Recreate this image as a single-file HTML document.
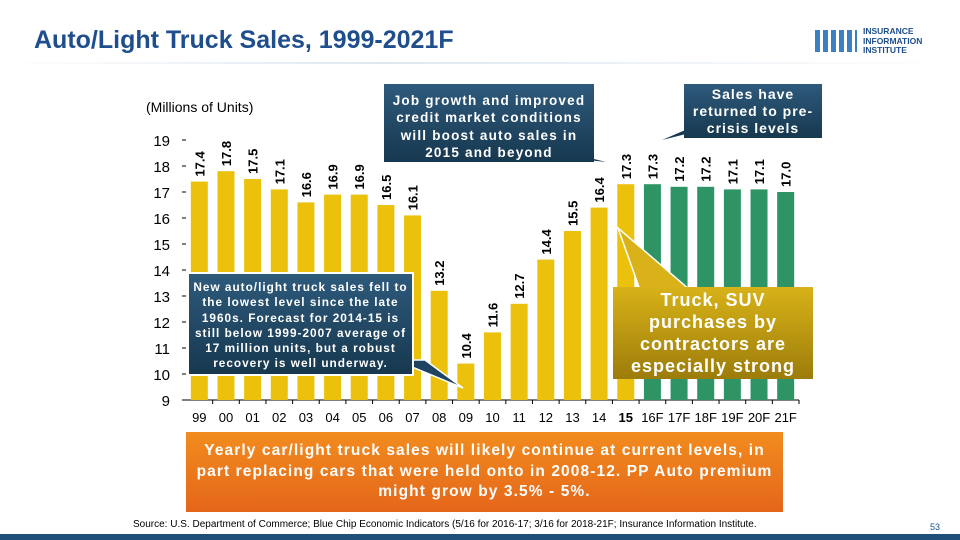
<!DOCTYPE html>
<html><head><meta charset="utf-8"><style>
body{margin:0;width:960px;height:540px;overflow:hidden;background:#fff;font-family:"Liberation Sans",sans-serif;position:relative}
.abs{position:absolute}
.box{position:absolute;color:#fff;font-weight:bold;text-align:center;box-sizing:border-box;white-space:nowrap}
</style></head><body>
<div class="abs" style="left:34px;top:26px;font-size:25px;font-weight:bold;color:#1f4e8c">Auto/Light Truck Sales, 1999-2021F</div>
<div class="abs" style="left:0;top:62px;width:960px;height:2px;background:linear-gradient(90deg,#fff,#dfe7f0 40%,#fff)"></div>
<div class="abs" style="left:815px;top:26px;width:130px;height:30px">
 <div class="abs" style="left:0;top:4px;width:42px;height:22px;background:repeating-linear-gradient(90deg,#3b7fc4 0 5px,#fff 5px 8px)"></div>
 <div class="abs" style="left:48px;top:1px;font-size:8.5px;font-weight:bold;color:#1f4e8c;line-height:9.5px">INSURANCE<br>INFORMATION<br>INSTITUTE</div>
</div>
<div class="abs" style="left:146px;top:99px;font-size:14px;color:#000">(Millions of Units)</div>
<svg class="abs" style="left:0;top:0" width="960" height="540">
<g id="g"></g>
</svg>
<svg class="abs" style="left:0;top:0;pointer-events:none" width="960" height="540"><polygon points="570,158 590,158 606,162" fill="#17384f"/><polygon points="690,128 710,128 662,140" fill="#17384f"/><polygon points="395,360 425,360 463,388" fill="#1e4462" stroke="#fff" stroke-width="1.5"/><polygon points="640,290 690,290 618,228" fill="#d8b218" stroke="#fff" stroke-width="1.5"/></svg>
<div class="box" style="left:384px;top:84px;width:210px;height:78px;background:linear-gradient(#2e5a7c,#17384f);font-size:13.5px;letter-spacing:1.2px;padding-top:8px;line-height:17.3px">Job growth and improved<br>credit market conditions<br>will boost auto sales in<br>2015 and beyond</div>
<div class="box" style="left:684px;top:84px;width:138px;height:54px;background:linear-gradient(#2e5a7c,#17384f);font-size:14px;letter-spacing:1px;padding-top:2px;line-height:17px">Sales have<br>returned to pre-<br>crisis levels</div>
<div class="box" style="left:187px;top:272px;width:227px;height:104px;background:linear-gradient(#2e5a7c,#17384f);border:2px solid #fff;font-size:11.8px;letter-spacing:1px;padding-top:6px;line-height:15.3px">New auto/light truck sales fell to<br>the lowest level since the late<br>1960s. Forecast for 2014-15 is<br>still below 1999-2007 average of<br>17 million units, but a robust<br>recovery is well underway.</div>
<div class="box" style="left:613px;top:287px;width:200px;height:92px;background:linear-gradient(#d8b218,#9c7c0a);font-size:18px;letter-spacing:1px;padding-top:2px;line-height:22px">Truck, SUV<br>purchases by<br>contractors are<br>especially strong</div>
<div class="box" style="left:186px;top:432px;width:597px;height:80px;background:linear-gradient(#f28c1e,#e4661a);font-size:15.5px;letter-spacing:1.1px;padding-top:9px;line-height:20.5px">Yearly car/light truck sales will likely continue at current levels, in<br>part replacing cars that were held onto in 2008-12. PP Auto premium<br>might grow by 3.5% - 5%.</div>
<div class="abs" style="left:133px;top:519px;font-size:10px;color:#000">Source: U.S. Department of Commerce; Blue Chip Economic Indicators (5/16 for 2016-17; 3/16 for 2018-21F; Insurance Information Institute.</div>
<div class="abs" style="left:930px;top:522px;font-size:9px;color:#1f4e8c">53</div>
<div class="abs" style="left:0;top:534px;width:960px;height:6px;background:#1f4e79"></div>
<script>
const categories=["99","00","01","02","03","04","05","06","07","08","09","10","11","12","13","14","15","16F","17F","18F","19F","20F","21F"];
const values=[17.4,17.8,17.5,17.1,16.6,16.9,16.9,16.5,16.1,13.2,10.4,11.6,12.7,14.4,15.5,16.4,17.3,17.3,17.2,17.2,17.1,17.1,17.0];
const forecast=[0,0,0,0,0,0,0,0,0,0,0,0,0,0,0,0,0,1,1,1,1,1,1];
const yTicks=[9,10,11,12,13,14,15,16,17,18,19];
const NS="http://www.w3.org/2000/svg";
const g=document.getElementById('g');
const x0=186,x1=799,yBase=400,yMin=9,yMax=19,yTop=140;
const bw=(x1-x0)/categories.length;
const y=v=>yBase-(v-yMin)/(yMax-yMin)*(yBase-yTop);
function mk(t,a){const e=document.createElementNS(NS,t);for(const k in a)e.setAttribute(k,a[k]);g.appendChild(e);return e;}
yTicks.forEach(t=>{
 const tx=mk('text',{x:170,y:y(t)+6,'text-anchor':'end','font-size':15,fill:'#000'});tx.textContent=t;
 
 
 mk('line',{x1:182,x2:186,y1:y(t),y2:y(t),stroke:'#000'});
});
mk('line',{x1:182,x2:x1,y1:yBase,y2:yBase,stroke:'#000'});
categories.forEach((c,i)=>{
 const cx=x0+bw*(i+0.5);
 const r=mk('rect',{x:cx-8.5,y:y(values[i]),width:17,height:yBase-y(values[i]),fill:forecast[i]?'#2e9466':'#ecc10c'});
 
 
 mk('line',{x1:x0+bw*(i+1),x2:x0+bw*(i+1),y1:yBase,y2:yBase+4,stroke:'#000'});
 const tl=mk('text',{x:cx,y:422,'text-anchor':'middle','font-size':13,fill:'#000','font-weight':c==='15'?'bold':'normal'});tl.textContent=c;
 
 
 const vl=mk('text',{transform:`translate(${cx+5},${y(values[i])-5}) rotate(-90)`,'font-size':13,'font-weight':'bold',fill:'#000'});vl.textContent=values[i].toFixed(1);
 
 
});
</script>
</body></html>
